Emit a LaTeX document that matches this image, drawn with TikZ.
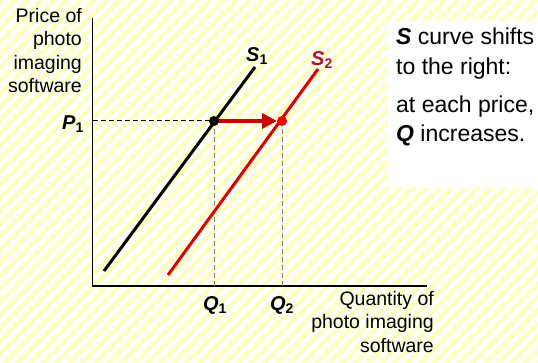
\documentclass[tikz,border=0pt]{standalone}
\usepackage{fontspec}
\setmainfont{Liberation Sans}
\usetikzlibrary{arrows.meta}
\definecolor{stripe}{HTML}{FFFFC2}
\definecolor{sred}{HTML}{E00000}
\definecolor{arrred}{HTML}{CC0000}
\definecolor{lblred}{HTML}{B0103A}
\tikzset{
  axis/.style={line width=1.5pt,black},
  guide/.style={line width=1pt,dash pattern=on 5pt off 3pt},
  curveblk/.style={line width=3pt,black},
  curvered/.style={line width=3pt,sred},
  axtext/.style={font=\fontsize{19.5}{23.5}\selectfont,align=right,inner sep=0pt},
  sidetext/.style={font=\fontsize{23}{28}\selectfont,anchor=base west,inner sep=0pt},
  lbl/.style={font=\fontsize{20}{20}\selectfont\bfseries\itshape,inner sep=0pt},
  dot/.style={circle,inner sep=0pt,minimum size=10pt}
}
\newcommand{\sublbl}[2]{#1\textsubscript{\upshape #2}}
\begin{document}
\begin{tikzpicture}[x=1pt,y=-1pt]
\useasboundingbox (0,0) rectangle (538,363);
\fill[white] (0,0) rectangle (538,363);
\begin{scope}
\clip (0,0) rectangle (538,363);
\foreach \k in {-380,-367,...,560}
  \draw[stripe,line width=4.6pt] (\k,370) -- (\k+370,0);
\end{scope}
\fill[white] (388,21) rectangle (538,188);
% axes
\coordinate (O) at (92.5,286);
\coordinate (ytop) at (92.5,18);
\coordinate (xend) at (427,286);
\draw[axis] (ytop) -- (O) -- (xend);
% points
\coordinate (e1) at (214,121);
\coordinate (e2) at (282,121);
\coordinate (p1) at (92.5,121);
\coordinate (q1) at (214,286);
\coordinate (q2) at (282,286);
% guides
\draw[guide,black] (p1) -- (e1);
\draw[guide,gray] (e1) -- (q1);
\draw[guide,gray] (e2) -- (q2);
% supply curves
\coordinate (s1a) at (104,271);
\coordinate (s1b) at (255,67);
\coordinate (s2a) at (168,275);
\coordinate (s2b) at (318,69);
\draw[curveblk] (s1a) -- (s1b);
\draw[curvered] (s2a) -- (s2b);
% arrow
\coordinate (arrend) at (277,121);
\draw[arrred,line width=3.5pt,-{Triangle[length=15pt,width=15pt]}] (e1) -- (arrend);
\node[dot,fill=black] (d1) at (e1) {};
\node[dot,fill=red] (d2) at (e2) {};
% labels
\node[lbl] (S1) at (257,56) {\sublbl{S}{1}};
\node[lbl,text=lblred] (S2) at (322,60) {\sublbl{S}{2}};
\node[lbl] (P1) at (73,124) {\sublbl{P}{1}};
\node[lbl] (Q1) at (215,305) {\sublbl{Q}{1}};
\node[lbl] (Q2) at (282,305) {\sublbl{Q}{2}};
% axis titles
\node[axtext,anchor=north east] (ylab) at (82,8) {Price of\\photo\\imaging\\software};
\node[axtext,anchor=north east] (xlab) at (434,291) {Quantity of\\photo imaging\\software};
% side text
\node[sidetext] (t1) at (396,45) {\textbf{\textit{S}} curve shifts};
\node[sidetext] (t2) at (396,75) {to the right:};
\node[sidetext] (t3) at (396,113) {at each price,};
\node[sidetext] (t4) at (396,142) {\textbf{\textit{Q}} increases.};
\end{tikzpicture}
\end{document}
